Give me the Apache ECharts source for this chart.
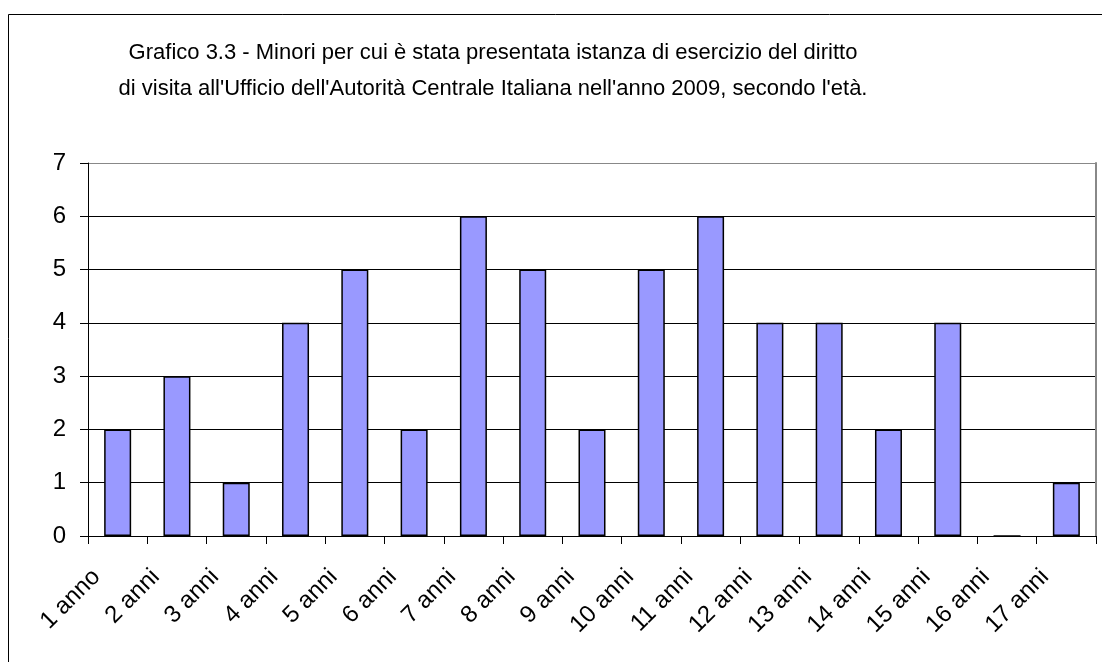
<!DOCTYPE html>
<html>
<head>
<meta charset="utf-8">
<script src="https://cdn.jsdelivr.net/npm/echarts@6/dist/echarts.min.js"></script>
<style>
  html, body { margin: 0; padding: 0; background: #fff; }
  #chart { width: 1102px; height: 662px; }
</style>
</head>
<body>
<div id="chart"></div>
<script>
// dati
const categories = ["1 anno", "2 anni", "3 anni", "4 anni", "5 anni", "6 anni", "7 anni", "8 anni", "9 anni",
  "10 anni", "11 anni", "12 anni", "13 anni", "14 anni", "15 anni", "16 anni", "17 anni"];
const minori = [2, 3, 1, 4, 5, 2, 6, 5, 2, 5, 6, 4, 4, 2, 4, 0, 1];
const yTicks = [0, 1, 2, 3, 4, 5, 6, 7];

const titleText = "Grafico 3.3 - Minori per cui è stata presentata istanza di esercizio del diritto\n" +
  "di visita all'Ufficio dell'Autorità Centrale Italiana nell'anno 2009, secondo l'età.";

const font = "'Liberation Sans', Arial, sans-serif";
const chart = echarts.init(document.getElementById("chart"));

chart.setOption({
  animation: false,
  backgroundColor: "#fff",
  textStyle: { fontFamily: font },
  graphic: [
    {
      type: "rect",
      shape: { x: 8.5, y: 14.5, width: 1200, height: 700 },
      style: { fill: "none", stroke: "#000", lineWidth: 1 },
      z: -1
    }
  ],
  title: {
    text: titleText,
    left: 488,
    top: 30,
    textAlign: "center",
    textStyle: {
      fontFamily: font,
      fontSize: 22,
      fontWeight: "normal",
      color: "#000",
      lineHeight: 36
    }
  },
  grid: { left: 88, top: 163, right: 6, bottom: 126, containLabel: false },
  xAxis: {
    type: "category",
    data: categories,
    boundaryGap: true,
    axisLine: { lineStyle: { color: "#000", width: 1 } },
    axisTick: { show: true, length: 8, interval: 0, lineStyle: { color: "#000" } },
    axisLabel: {
      interval: 0,
      rotate: 45,
      margin: 16,
      padding: [0, 30, 0, 0],
      fontSize: 24,
      color: "#000",
      fontFamily: font
    },
    splitLine: { show: false }
  },
  yAxis: [
    {
      type: "value",
      min: yTicks[0],
      max: yTicks[yTicks.length - 1],
      interval: 1,
      axisLine: { show: true, lineStyle: { color: "#000", width: 1 } },
      axisTick: { show: true, length: 8, lineStyle: { color: "#000" } },
      axisLabel: { fontSize: 24, color: "#000", margin: 22, fontFamily: font },
      splitLine: {
        show: true,
        lineStyle: { color: ["#000", "#000", "#000", "#000", "#000", "#000", "#000", "#888"], width: 1 }
      }
    },
    {
      type: "value",
      position: "right",
      min: yTicks[0],
      max: yTicks[yTicks.length - 1],
      interval: 1,
      axisLine: { show: true, lineStyle: { color: "#888", width: 2 } },
      axisTick: { show: false },
      axisLabel: { show: false },
      splitLine: { show: false }
    }
  ],
  series: [
    {
      type: "bar",
      data: minori,
      barWidth: 27,
      itemStyle: { color: "#9999FF", borderColor: "#000", borderWidth: 1.5 }
    }
  ]
});
</script>
</body>
</html>
